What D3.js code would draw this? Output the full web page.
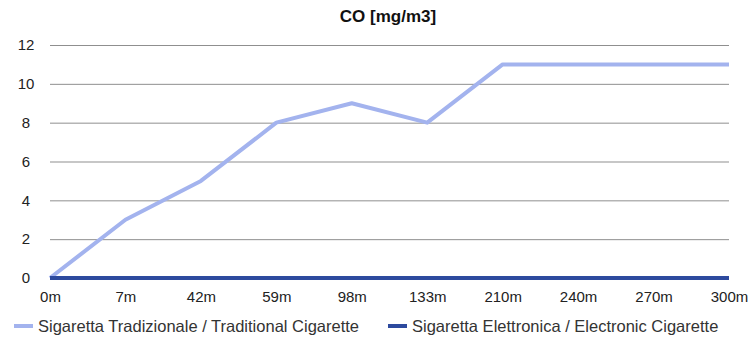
<!DOCTYPE html>
<html lang="en">
<head>
<meta charset="UTF-8">
<title>CO [mg/m3]</title>
<script src="https://cdn.jsdelivr.net/npm/d3@7"></script>
<style>
    body { margin: 0; background: #fff; }
    svg { font-family: "Liberation Sans", Arial, sans-serif; }
    .tick text { font-size: 15px; fill: #222; }
    .title { font-size: 17px; font-weight: bold; fill: #111; }
    .legend text { font-size: 16.5px; fill: #333; }
</style>
</head>
<body>
<div id="chart"></div>
<script>
    // Data
    const categories = ["0m", "7m", "42m", "59m", "98m", "133m", "210m", "240m", "270m", "300m"];
    const traditional = [0, 3, 5, 8, 9, 8, 11, 11, 11, 11];
    const electronic = [0, 0, 0, 0, 0, 0, 0, 0, 0, 0];
    const yTicks = [0, 2, 4, 6, 8, 10, 12];
    const seriesNames = ["Sigaretta Tradizionale / Traditional Cigarette", "Sigaretta Elettronica / Electronic Cigarette"];

    const width = 749, height = 339;
    const margin = {top: 45, right: 20, bottom: 61, left: 50};

    const svg = d3.select("#chart").append("svg")
        .attr("width", width)
        .attr("height", height);

    const x = d3.scalePoint()
        .domain(categories)
        .range([margin.left, width - margin.right]);

    const y = d3.scaleLinear()
        .domain([0, 12])
        .range([height - margin.bottom, margin.top]);

    // Gridlines + y labels
    const yAxis = svg.append("g")
        .attr("transform", `translate(${margin.left},0)`)
        .call(d3.axisLeft(y).tickValues(yTicks).tickSize(-(width - margin.left - margin.right)).tickPadding(24));
    yAxis.select(".domain").remove();
    yAxis.selectAll(".tick line").attr("stroke", "#8f8f8f").attr("stroke-width", 1);
    yAxis.selectAll(".tick text").attr("text-anchor", "middle");

    // X labels
    const xAxis = svg.append("g")
        .attr("transform", `translate(0,${height - margin.bottom})`)
        .call(d3.axisBottom(x).tickSize(0).tickPadding(13));
    xAxis.select(".domain").remove();

    const line = d3.line()
        .x((d, i) => x(categories[i]))
        .y(d => y(d));

    svg.append("path")
        .datum(traditional)
        .attr("fill", "none")
        .attr("stroke", "#a3b3ee")
        .attr("stroke-width", 4)
        .attr("stroke-linejoin", "round")
        .attr("d", line);

    svg.append("path")
        .datum(electronic)
        .attr("fill", "none")
        .attr("stroke", "#2d4a9e")
        .attr("stroke-width", 4)
        .attr("d", line);

    // Title
    svg.append("text")
        .attr("class", "title")
        .attr("x", 388)
        .attr("y", 22)
        .attr("text-anchor", "middle")
        .text("CO [mg/m3]");

    // Legend
    const colors = ["#a3b3ee", "#2d4a9e"];
    const legendX = [14, 388];
    seriesNames.forEach((name, i) => {
        const g = svg.append("g")
            .attr("class", "legend")
            .attr("transform", `translate(${legendX[i]},326)`);
        g.append("line")
            .attr("x1", 0).attr("x2", 19)
            .attr("stroke", colors[i])
            .attr("stroke-width", 4);
        g.append("text")
            .attr("x", 24)
            .attr("y", 6)
            .text(name);
    });
</script>
</body>
</html>
